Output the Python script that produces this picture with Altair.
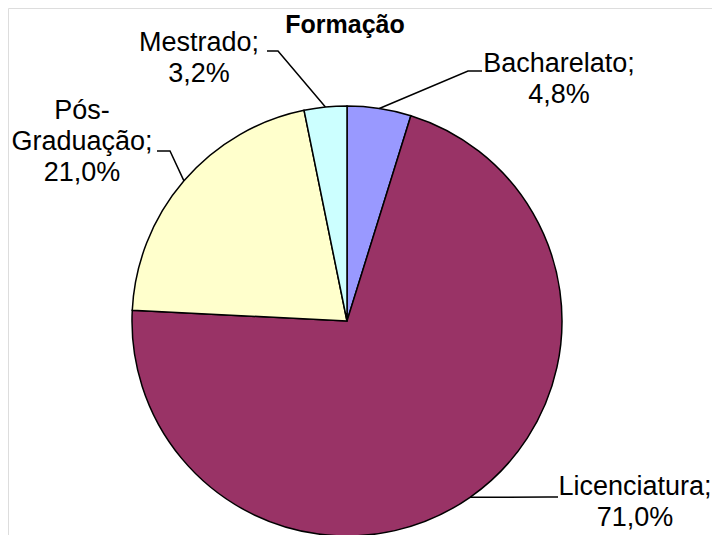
import math
import altair as alt
import pandas as pd

# ---- data ----
categories = ["Bacharelato", "Licenciatura", "Pós-Graduação", "Mestrado"]
values = [4.8, 71.0, 21.0, 3.2]
colors = ["#9999FF", "#993366", "#FFFFCC", "#CCFFFF"]
label_names = ["Bacharelato;", "Licenciatura;", "Pós-\nGraduação;", "Mestrado;"]
title_text = "Formação"

# ---- layout (chart pixel coords, page minus 8px margin) ----
CX, CY, R = 339, 313, 215
label_anchor = [(551, 64), (627, 487), (74, 111), (191, 43)]      # centre x, first baseline
elbow_pts = [[(460, 63), (474, 63)], [(540, 489), (550, 489)],
             [(162, 143), (149, 143)], [(270, 43), (259, 43)]]

FONT = "Liberation Sans"

def fmt(v):
    return f"{v:.1f}".replace(".", ",") + "%"

df = pd.DataFrame({"cat": categories, "value": values, "order": range(len(values))})

# leader lines: from slice mid-angle on the pie edge to the label
total = sum(values)
rows = []
cum = 0.0
for i, v in enumerate(values):
    mid = (cum + v / 2) / total
    cum += v
    ang = 2 * math.pi * mid
    ex = CX + R * math.sin(ang)
    ey = CY - R * math.cos(ang)
    pts = [(ex, ey)] + elbow_pts[i]
    for j, (px, py) in enumerate(pts):
        rows.append({"cat": categories[i], "seq": j, "px": px, "py": py})
lines_df = pd.DataFrame(rows)

labels_df = pd.DataFrame({
    "txt": [f"{n}\n{fmt(v)}" for n, v in zip(label_names, values)],
    "lx": [a[0] for a in label_anchor],
    "ly": [a[1] for a in label_anchor],
})

pie = alt.Chart(df).mark_arc(stroke="black", strokeWidth=1.5).encode(
    theta=alt.Theta("value:Q", stack=True),
    order=alt.Order("order:Q"),
    color=alt.Color("cat:N", scale=alt.Scale(domain=categories, range=colors), legend=None),
    x=alt.value(CX), y=alt.value(CY), radius=alt.value(R),
)

leaders = alt.Chart(lines_df).mark_line(color="black", strokeWidth=1.5).encode(
    x=alt.X("px:Q", scale=None),
    y=alt.Y("py:Q", scale=None),
    detail="cat:N",
    order="seq:Q",
)

labels = alt.Chart(labels_df).mark_text(
    font=FONT, fontSize=27, align="center", baseline="alphabetic",
    lineBreak="\n", lineHeight=31, color="black",
).encode(
    x=alt.X("lx:Q", scale=None),
    y=alt.Y("ly:Q", scale=None),
    text="txt:N",
)

title = alt.Chart(pd.DataFrame({"t": [title_text]})).mark_text(
    font=FONT, fontSize=25, fontWeight="bold", align="center", baseline="alphabetic", color="black",
).encode(x=alt.value(337), y=alt.value(25), text="t:N")

chart = alt.layer(pie, leaders, labels, title).properties(
    width=704, height=527, padding=0, autosize="none",
).configure_view(stroke=None).configure(background="white")

chart.save("out.html", embed_options={"renderer": "svg", "actions": False})
